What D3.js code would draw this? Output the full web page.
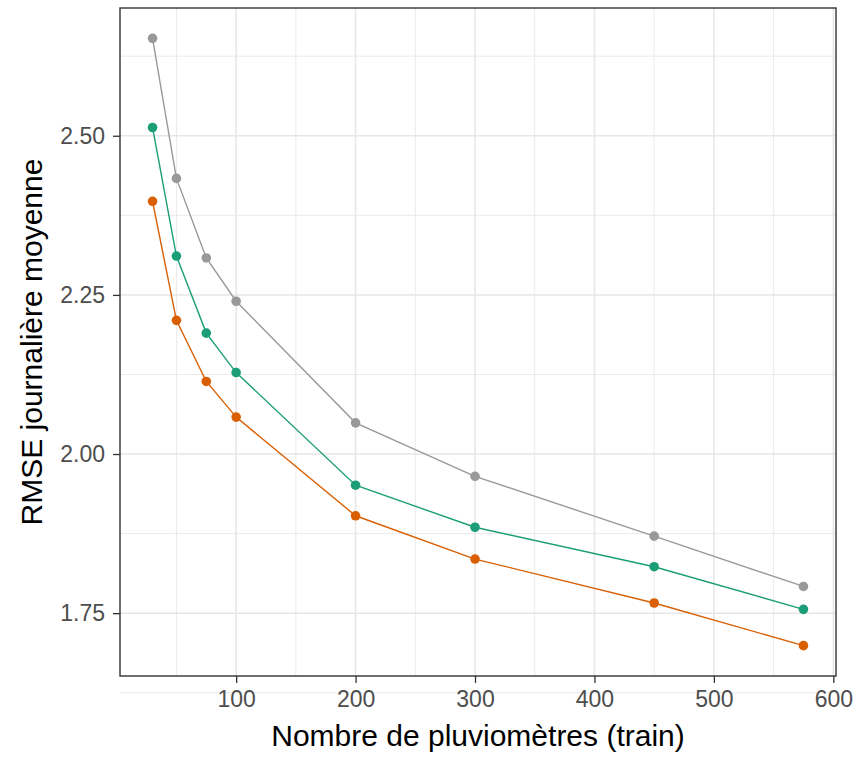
<!DOCTYPE html>
<html>
<head>
<meta charset="utf-8">
<script src="https://cdn.jsdelivr.net/npm/d3@7"></script>
<style>
  html, body { margin: 0; padding: 0; background: #fff; }
  svg { display: block; }
  text { font-family: "Liberation Sans", Arial, sans-serif; }
</style>
</head>
<body>
<svg id="chart" width="853" height="757"></svg>
<script>
// Number of training rain gauges
const gauges = [30, 50, 75, 100, 200, 300, 450, 575];

// Mean daily RMSE for each configuration
const rmseGrey   = [2.653, 2.433, 2.308, 2.240, 2.049, 1.965, 1.871, 1.792];
const rmseGreen  = [2.513, 2.311, 2.190, 2.128, 1.951, 1.885, 1.823, 1.756];
const rmseOrange = [2.397, 2.210, 2.114, 2.058, 1.903, 1.835, 1.766, 1.699];

const xTicks = [100, 200, 300, 400, 500, 600];
const xMinor = [50, 150, 250, 350, 450, 550];
const yTicks = [1.75, 2.00, 2.25, 2.50];
const yMinor = [1.625, 1.875, 2.125, 2.375, 2.625];

const series = [
  { values: rmseGrey,   color: "#999999" },
  { values: rmseGreen,  color: "#1B9E77" },
  { values: rmseOrange, color: "#D95F02" }
];

const panel = { left: 120, right: 836, top: 8, bottom: 676 };
const svg = d3.select("#chart");

// Domains padded by 5% on each side
function expand(ext) {
  const pad = (ext[1] - ext[0]) * 0.05;
  return [ext[0] - pad, ext[1] + pad];
}
const allY = series.flatMap(s => s.values);
const x = d3.scaleLinear().domain(expand(d3.extent(gauges))).range([panel.left, panel.right]);
const y = d3.scaleLinear().domain(expand(d3.extent(allY))).range([panel.bottom, panel.top]);

const grid = svg.append("g");
// minor grid
grid.selectAll(".xm").data(xMinor).join("line")
  .attr("x1", d => x(d)).attr("x2", d => x(d))
  .attr("y1", panel.top).attr("y2", panel.bottom)
  .attr("stroke", "#EBEBEB").attr("stroke-width", 1);
grid.selectAll(".ym").data(yMinor).join("line")
  .attr("y1", d => y(d)).attr("y2", d => y(d))
  .attr("x1", panel.left).attr("x2", panel.right)
  .attr("stroke", "#EBEBEB").attr("stroke-width", 1);
// major grid
grid.selectAll(".xM").data(xTicks).join("line")
  .attr("x1", d => x(d)).attr("x2", d => x(d))
  .attr("y1", panel.top).attr("y2", panel.bottom)
  .attr("stroke", "#E6E6E6").attr("stroke-width", 1.5);
grid.selectAll(".yM").data(yTicks).join("line")
  .attr("y1", d => y(d)).attr("y2", d => y(d))
  .attr("x1", panel.left).attr("x2", panel.right)
  .attr("stroke", "#E6E6E6").attr("stroke-width", 1.5);

// lines and points
const line = d3.line().x((d, i) => x(gauges[i])).y(d => y(d));
const marks = svg.append("g");
series.forEach(s => {
  marks.append("path")
    .attr("d", line(s.values))
    .attr("fill", "none")
    .attr("stroke", s.color)
    .attr("stroke-width", 1.4);
  marks.selectAll(null).data(s.values).join("circle")
    .attr("cx", (d, i) => x(gauges[i]))
    .attr("cy", d => y(d))
    .attr("r", 4.8)
    .attr("fill", s.color);
});

// panel border
svg.append("rect")
  .attr("x", panel.left).attr("y", panel.top)
  .attr("width", panel.right - panel.left)
  .attr("height", panel.bottom - panel.top)
  .attr("fill", "none").attr("stroke", "#333333").attr("stroke-width", 1.4);

// axes
const xAxis = d3.axisBottom(x).tickValues(xTicks).tickSize(7).tickPadding(8).tickFormat(d3.format("d"));
const yAxis = d3.axisLeft(y).tickValues(yTicks).tickSize(7).tickPadding(8).tickFormat(d3.format(".2f"));

const gx = svg.append("g").attr("transform", `translate(0,${panel.bottom})`).call(xAxis);
const gy = svg.append("g").attr("transform", `translate(${panel.left},0)`).call(yAxis);
[gx, gy].forEach(g => {
  g.select(".domain").remove();
  g.selectAll(".tick line").attr("stroke", "#333333").attr("stroke-width", 1.3);
  g.selectAll(".tick text").attr("fill", "#4D4D4D").style("font-size", "23px")
    .style("font-family", "'Liberation Sans', Arial, sans-serif");
});

// axis titles
svg.append("text")
  .attr("x", (panel.left + panel.right) / 2)
  .attr("y", 746)
  .attr("text-anchor", "middle")
  .style("font-size", "30px")
  .attr("fill", "#000")
  .text("Nombre de pluviomètres (train)");

svg.append("text")
  .attr("transform", `translate(42,${(panel.top + panel.bottom) / 2}) rotate(-90)`)
  .attr("text-anchor", "middle")
  .style("font-size", "30px")
  .attr("fill", "#000")
  .text("RMSE journalière moyenne");
</script>
</body>
</html>
